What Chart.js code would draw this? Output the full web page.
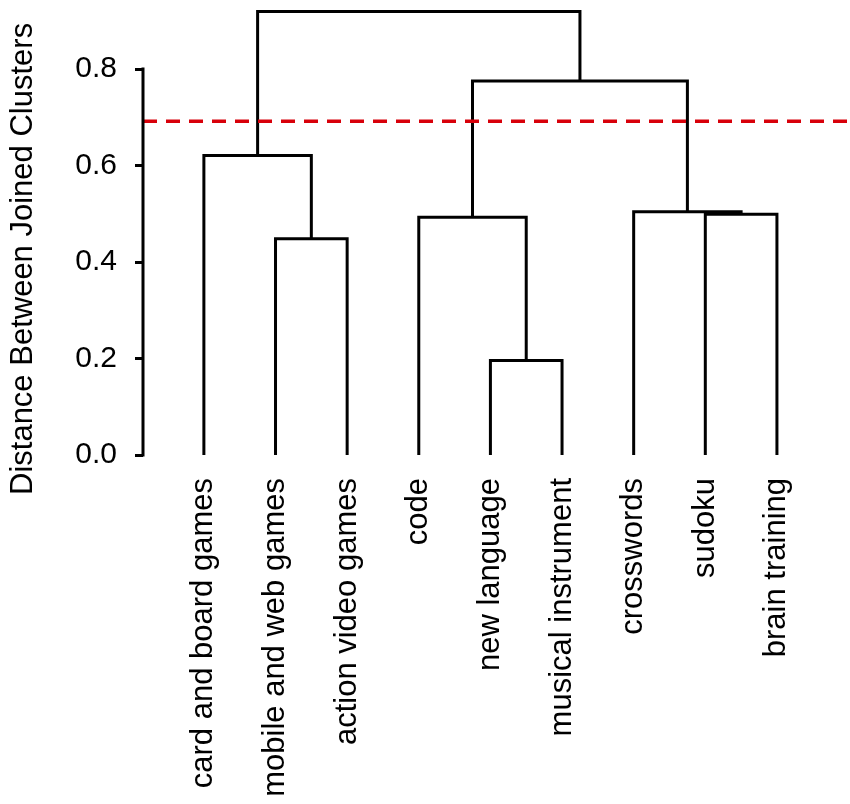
<!DOCTYPE html>
<html>
<head>
<meta charset="utf-8">
<script src="https://cdn.jsdelivr.net/npm/chart.js@4.4.1/dist/chart.umd.min.js"></script>
<style>
  html, body { margin: 0; padding: 0; background: #fff; }
  #wrap { width: 850px; height: 804px; position: relative; }
</style>
</head>
<body>
<div id="wrap"><canvas id="dendroChart"></canvas></div>
<script>
// leaves in plotted order
const leafLabels = ['card and board games', 'mobile and web games', 'action video games',
    'code', 'new language', 'musical instrument', 'crosswords', 'sudoku', 'brain training'];

// merges: ids 0-8 are leaves, merge k gets id 9 + k
const mergeLeft = [4, 1, 3, 7, 6, 0, 11, 14];
const mergeRight = [5, 2, 9, 8, 12, 10, 13, 15];
const mergeHeight = [0.196, 0.448, 0.493, 0.499, 0.504, 0.621, 0.775, 0.919];

const cutHeight = 0.692;
const yTicks = [0, 0.2, 0.4, 0.6, 0.8];

const FONT = "'Liberation Sans', Arial, Helvetica, sans-serif";
const X_MIN = -0.85, X_MAX = 9.02;

document.addEventListener('DOMContentLoaded', () => {
    // node positions: leaves at their index, merges at the mean of their children
    const nodeX = leafLabels.map((_, i) => i);
    const nodeH = leafLabels.map(() => 0);
    const linkSets = [];
    mergeHeight.forEach((h, k) => {
        const l = mergeLeft[k], r = mergeRight[k];
        linkSets.push({
            data: [
                { x: nodeX[l], y: nodeH[l] },
                { x: nodeX[l], y: h },
                { x: nodeX[r], y: h },
                { x: nodeX[r], y: nodeH[r] }
            ],
            borderColor: '#000000',
            borderWidth: 3,
            pointRadius: 0,
            tension: 0,
            order: 1
        });
        nodeX.push((nodeX[l] + nodeX[r]) / 2);
        nodeH.push(h);
    });

    const cutSet = {
        data: [{ x: X_MIN, y: cutHeight }, { x: X_MAX, y: cutHeight }],
        borderColor: '#d8000a',
        borderWidth: 3.5,
        borderDash: [14, 9],
        pointRadius: 0,
        order: 0
    };

    // y spine only from 0 to 0.8, plus the rotated axis title
    const axisDecor = {
        id: 'axisDecor',
        afterDraw(chart) {
            const ctx = chart.ctx;
            const y = chart.scales.y;
            const x0 = chart.chartArea.left;
            ctx.save();
            ctx.strokeStyle = '#000';
            ctx.lineWidth = 3;
            ctx.beginPath();
            ctx.moveTo(x0, y.getPixelForValue(yTicks[0]) + 1.5);
            ctx.lineTo(x0, y.getPixelForValue(yTicks[yTicks.length - 1]) - 1.5);
            ctx.stroke();

            ctx.translate(32, 495);
            ctx.rotate(-Math.PI / 2);
            ctx.fillStyle = '#000';
            ctx.font = '31px ' + FONT;
            ctx.textAlign = 'left';
            ctx.textBaseline = 'alphabetic';
            ctx.fillText('Distance Between Joined Clusters', 0, 0);
            ctx.restore();
        }
    };

    const ctx = document.getElementById('dendroChart').getContext('2d');
    new Chart(ctx, {
        type: 'line',
        data: { datasets: [cutSet, ...linkSets] },
        options: {
            responsive: true,
            maintainAspectRatio: false,
            animation: false,
            layout: { padding: { top: 1, right: 0, left: 0, bottom: 0 } },
            plugins: {
                legend: { display: false },
                tooltip: { enabled: false }
            },
            scales: {
                x: {
                    type: 'linear',
                    min: X_MIN,
                    max: X_MAX,
                    grid: { display: false, drawTicks: false },
                    border: { display: false },
                    afterBuildTicks: (scale) => {
                        scale.ticks = leafLabels.map((_, i) => ({ value: i }));
                    },
                    afterFit: (scale) => {
                        scale.height = 349;
                        scale.paddingLeft = 0;
                        scale.paddingRight = 0;
                    },
                    ticks: {
                        autoSkip: false,
                        minRotation: 90,
                        maxRotation: 90,
                        padding: 23,
                        color: '#000',
                        font: { family: FONT, size: 31 },
                        callback: (v) => leafLabels[v]
                    }
                },
                y: {
                    type: 'linear',
                    min: 0,
                    max: 0.941,
                    grid: {
                        display: true,
                        drawOnChartArea: false,
                        drawTicks: true,
                        tickLength: 8,
                        color: '#000',
                        lineWidth: 3
                    },
                    border: { display: false },
                    afterBuildTicks: (scale) => {
                        scale.ticks = yTicks.map(v => ({ value: v }));
                    },
                    afterFit: (scale) => {
                        scale.width = 143;
                        scale.paddingTop = 0;
                        scale.paddingBottom = 0;
                    },
                    ticks: {
                        padding: 18,
                        color: '#000',
                        font: { family: FONT, size: 30 },
                        callback: (v) => v.toFixed(1)
                    }
                }
            }
        },
        plugins: [axisDecor]
    });
});
</script>
</body>
</html>
